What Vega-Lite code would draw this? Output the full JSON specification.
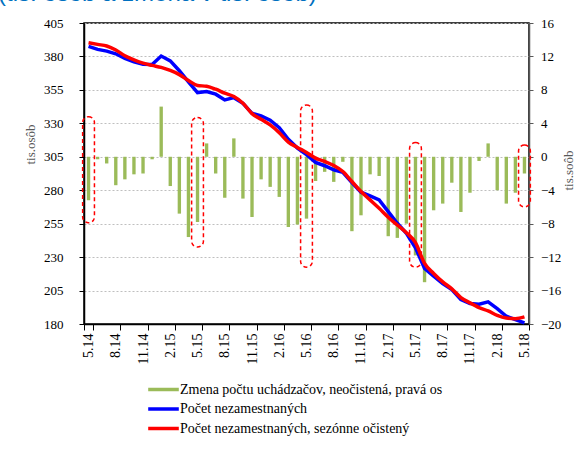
{
  "$schema": "https://vega.github.io/schema/vega-lite/v6.json",
  "width": 445,
  "height": 301,
  "autosize": {"type": "none"},
  "padding": {"left": 84, "top": 23, "right": 45, "bottom": 125},
  "background": "white",
  "title": {"text": "(tis. osôb a zmena v tis. osôb)", "anchor": "start", "frame": "group", "orient": "top", "baseline": "alphabetic", "offset": 12, "dx": -86, "dy": 20, "font": "Liberation Sans", "fontSize": 24, "fontWeight": "normal", "color": "#0070C0"},
  "config": {"view": {"stroke": "#000000", "strokeWidth": 1.5}, "font": "Liberation Serif"},
  "data": {"values": [
    {"t": "5.14", "d": -5.2, "u": 387.5, "s": 390.3, "e1": 4.8, "e2": -7.9},
    {"t": "6.14", "d": -0.3, "u": 385.3, "s": 389},
    {"t": "7.14", "d": -0.8, "u": 384, "s": 387.8},
    {"t": "8.14", "d": -3.4, "u": 382, "s": 384.8},
    {"t": "9.14", "d": -2.7, "u": 378.5, "s": 380.5},
    {"t": "10.14", "d": -2.1, "u": 376, "s": 377.5},
    {"t": "11.14", "d": -2.0, "u": 374.2, "s": 375},
    {"t": "12.14", "d": -0.3, "u": 374, "s": 373.3},
    {"t": "1.15", "d": 6.0, "u": 380.3, "s": 371.8},
    {"t": "2.15", "d": -3.5, "u": 376.7, "s": 369.5},
    {"t": "3.15", "d": -6.8, "u": 369.3, "s": 366.4},
    {"t": "4.15", "d": -9.6, "u": 361, "s": 362},
    {"t": "5.15", "d": -7.8, "u": 353, "s": 358.3, "e1": 4.7, "e2": -10.8},
    {"t": "6.15", "d": 1.6, "u": 353.8, "s": 357.7},
    {"t": "7.15", "d": -2.0, "u": 351.8, "s": 355.5},
    {"t": "8.15", "d": -4.9, "u": 347.5, "s": 352.5},
    {"t": "9.15", "d": 2.2, "u": 349.2, "s": 350},
    {"t": "10.15", "d": -5.0, "u": 345, "s": 345},
    {"t": "11.15", "d": -7.2, "u": 337.5, "s": 337.3},
    {"t": "12.15", "d": -2.7, "u": 335.5, "s": 333},
    {"t": "1.16", "d": -3.6, "u": 332.3, "s": 328.8},
    {"t": "2.16", "d": -4.8, "u": 326.7, "s": 323},
    {"t": "3.16", "d": -8.4, "u": 318, "s": 316},
    {"t": "4.16", "d": -8.1, "u": 311.5, "s": 312},
    {"t": "5.16", "d": -7.4, "u": 306.6, "s": 308.2, "e1": 6.2, "e2": -13.2},
    {"t": "6.16", "d": -2.9, "u": 300.8, "s": 304},
    {"t": "7.16", "d": -1.8, "u": 298.3, "s": 301.5},
    {"t": "8.16", "d": -3.0, "u": 295.3, "s": 298.5},
    {"t": "9.16", "d": -0.6, "u": 293.3, "s": 294},
    {"t": "10.16", "d": -8.9, "u": 285.8, "s": 286.5},
    {"t": "11.16", "d": -7.0, "u": 278.5, "s": 279},
    {"t": "12.16", "d": -2.1, "u": 275.8, "s": 272.8},
    {"t": "1.17", "d": -2.3, "u": 272.8, "s": 266.5},
    {"t": "2.17", "d": -9.5, "u": 264, "s": 259.8},
    {"t": "3.17", "d": -9.7, "u": 255.3, "s": 254},
    {"t": "4.17", "d": -8.0, "u": 247.8, "s": 248.3},
    {"t": "5.17", "d": -11.8, "u": 237, "s": 240.8, "e1": 1.7, "e2": -13.2},
    {"t": "6.17", "d": -15.0, "u": 221.5, "s": 225.3},
    {"t": "7.17", "d": -6.4, "u": 215.8, "s": 217.8},
    {"t": "8.17", "d": -5.6, "u": 210.3, "s": 211.5},
    {"t": "9.17", "d": -3.1, "u": 205.8, "s": 206.3},
    {"t": "10.17", "d": -6.6, "u": 198.3, "s": 199.8},
    {"t": "11.17", "d": -4.3, "u": 195.3, "s": 195.8},
    {"t": "12.17", "d": -0.5, "u": 194.8, "s": 192.3},
    {"t": "1.18", "d": 1.6, "u": 196.5, "s": 189.8},
    {"t": "2.18", "d": -4.0, "u": 191.5, "s": 186.5},
    {"t": "3.18", "d": -5.6, "u": 185.8, "s": 184.5},
    {"t": "4.18", "d": -4.3, "u": 183.3, "s": 184},
    {"t": "5.18", "d": -2.0, "u": 180.8, "s": 185.3, "e1": 1.4, "e2": -6.0}
  ]},
  "encoding": {
    "x": {
      "field": "t", "type": "ordinal", "sort": null,
      "scale": {"paddingInner": 0, "paddingOuter": 0},
      "axis": {
        "title": null,
        "values": ["5.14","8.14","11.14","2.15","5.15","8.15","11.15","2.16","5.16","8.16","11.16","2.17","5.17","8.17","11.17","2.18","5.18"],
        "labelAngle": 270, "labelFont": "Liberation Serif", "labelFontSize": 14, "labelColor": "#000000", "labelOverlap": false,
        "tickBand": "extent", "tickSize": 6, "tickColor": "#000000", "domainColor": "#000000", "domainWidth": 1.5,
        "labelPadding": 3, "grid": false
      }
    }
  },
  "layer": [
    {
      "layer": [
        {
          "mark": {"type": "bar", "color": "#9BBB59", "width": {"band": 0.37}},
          "encoding": {
            "y": {
              "field": "d", "type": "quantitative", "title": "tis.soôb",
              "scale": {"domain": [-20, 16], "nice": false},
              "axis": {
                "orient": "right", "values": [-20,-16,-12,-8,-4,0,4,8,12,16], "tickCount": 12, "grid": false, "labelOverlap": false,
                "tickSize": 4, "labelPadding": 7.5, "labelFont": "Liberation Serif", "labelFontSize": 13, "labelColor": "#000000",
                "domainColor": "#595959", "domainWidth": 1.5, "tickColor": "#595959",
                "titleAngle": 270, "titleX": 43, "titleY": 147, "titleBaseline": "alphabetic", "titleAlign": "center",
                "titleFont": "Liberation Serif", "titleFontSize": 13, "titleFontWeight": "normal", "titleColor": "#595959"
              }
            }
          }
        },
        {
          "transform": [{"filter": "isValid(datum.e1)"}],
          "mark": {"type": "bar", "filled": false, "color": "#FF0000", "strokeDash": [4, 3], "strokeWidth": 1.5, "cornerRadius": 6, "width": {"band": 1.3}},
          "encoding": {
            "y": {"field": "e1", "type": "quantitative", "title": "tis.soôb", "scale": {"domain": [-20, 16], "nice": false}},
            "y2": {"field": "e2"}
          }
        }
      ]
    },
    {
      "layer": [
        {
          "mark": {"type": "line", "strokeWidth": 3.5},
          "encoding": {
            "y": {
              "field": "u", "type": "quantitative", "title": "tis.osôb",
              "scale": {"domain": [180, 405], "nice": false, "zero": false},
              "axis": {
                "orient": "left", "values": [180,205,230,255,280,305,330,355,380,405], "tickCount": 12, "labelOverlap": false,
                "grid": true, "gridDash": [2, 2], "gridColor": "#BFBFBF", "gridWidth": 1,
                "tickSize": 5, "labelPadding": 16, "labelFont": "Liberation Serif", "labelFontSize": 13, "labelColor": "#000000",
                "domainColor": "#000000", "domainWidth": 1.5, "tickColor": "#000000",
                "titleAngle": 270, "titleX": -50, "titleY": 121, "titleBaseline": "alphabetic", "titleAlign": "center",
                "titleFont": "Liberation Serif", "titleFontSize": 13, "titleFontWeight": "normal", "titleColor": "#595959"
              }
            },
            "color": {
              "datum": "Počet nezamestnaných",
              "scale": {
                "domain": ["Zmena počtu uchádzačov, neočistená, pravá os", "Počet nezamestnaných", "Počet nezamestnaných, sezónne očistený"],
                "range": ["#9BBB59", "#0000FF", "#FF0000"]
              },
              "legend": {
                "title": null, "orient": "none", "legendX": 69, "legendY": 356,
                "symbolType": "M-1.8,0H1.8", "symbolSize": 289, "symbolStrokeWidth": 3.5,
                "labelFont": "Liberation Serif", "labelFontSize": 14, "labelColor": "#000000", "labelLimit": 500,
                "labelOffset": 6, "rowPadding": 1.5
              }
            }
          }
        },
        {
          "mark": {"type": "line", "strokeWidth": 3.5, "interpolate": "monotone"},
          "encoding": {
            "y": {"field": "s", "type": "quantitative", "title": "tis.osôb", "scale": {"domain": [180, 405], "nice": false, "zero": false}},
            "color": {"datum": "Počet nezamestnaných, sezónne očistený"}
          }
        }
      ]
    }
  ],
  "resolve": {"scale": {"y": "independent"}}
}
